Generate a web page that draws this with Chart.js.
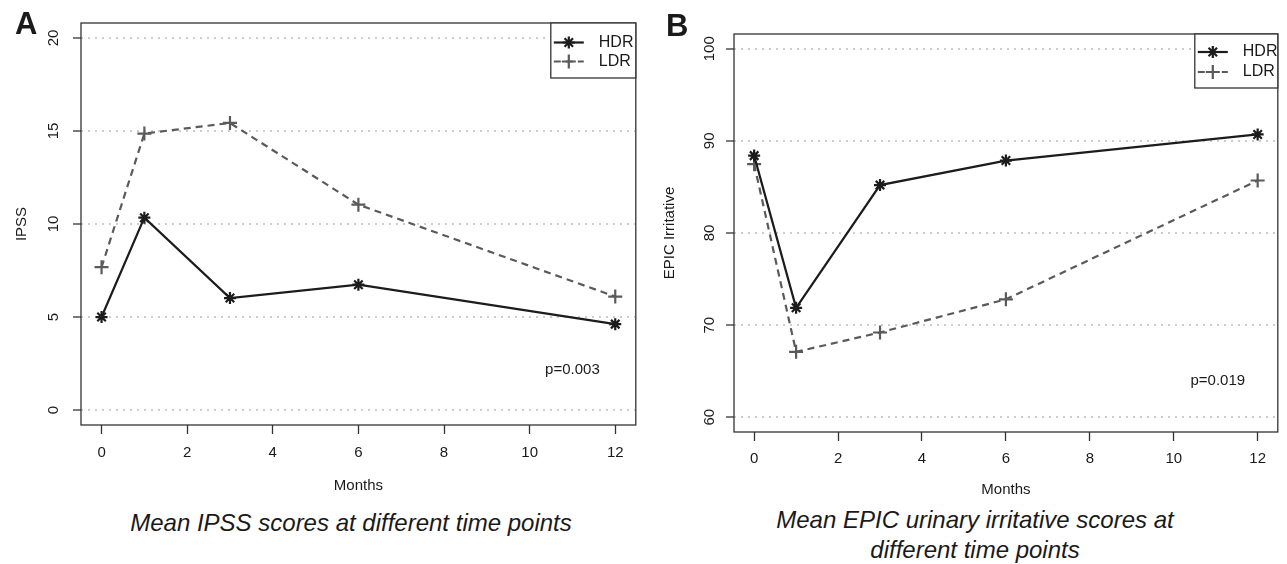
<!DOCTYPE html>
<html>
<head>
<meta charset="utf-8">
<script src="https://cdn.jsdelivr.net/npm/chart.js@4.4.1/dist/chart.umd.min.js"></script>
<style>
  html, body { margin: 0; padding: 0; background: #fff; }
  #page { position: relative; width: 1287px; height: 564px; overflow: hidden;
          font-family: "Liberation Sans", Arial, Helvetica, sans-serif; color: #1a1a1a; }
  canvas { position: absolute; top: 0; }
  .tag { position: absolute; font-weight: bold; font-size: 31px; line-height: 1; }
  .cap { position: absolute; font-style: italic; font-size: 24px; text-align: center; line-height: 30px; width: 500px; }
</style>
</head>
<body>
<div id="page">
  <canvas id="ipss" width="645" height="500" style="left:0"></canvas>
  <canvas id="epic" width="642" height="500" style="left:645px"></canvas>
  <div class="tag" style="left:15px;top:8px">A</div>
  <div class="tag" style="left:666px;top:10px">B</div>
  <div class="cap" style="left:101px;top:508px">Mean IPSS scores at different time points</div>
  <div class="cap" style="left:725px;top:505px">Mean EPIC urinary irritative scores at<br>different time points</div>
</div>
<script>
// values
const months = [0, 1, 3, 6, 12];
const seriesNames = ['HDR', 'LDR'];
const ipssHdr = [5.0, 10.34, 6.02, 6.74, 4.62];
const ipssLdr = [7.68, 14.86, 15.43, 11.04, 6.1];
const epicHdr = [88.4, 71.88, 85.2, 87.86, 90.7];
const epicLdr = [87.47, 67.1, 69.2, 72.8, 85.7];
const monthTicks = [0, 2, 4, 6, 8, 10, 12];
const ipssTicks = [0, 5, 10, 15, 20];
const epicTicks = [60, 70, 80, 90, 100];

Chart.defaults.font.family = '"Liberation Sans", Arial, Helvetica, sans-serif';
Chart.defaults.color = '#1a1a1a';

const INK = '#1c1c1c';
const GREY = '#5a5a5a';
const FRAME = '#333';

function mark(ctx, style, x, y, r) {
  ctx.beginPath();
  ctx.moveTo(x - r, y); ctx.lineTo(x + r, y);
  ctx.moveTo(x, y - r); ctx.lineTo(x, y + r);
  if (style === 'star') {
    const d = r * Math.SQRT1_2;
    ctx.moveTo(x - d, y - d); ctx.lineTo(x + d, y + d);
    ctx.moveTo(x - d, y + d); ctx.lineTo(x + d, y - d);
  }
  ctx.stroke();
}

// frame round the plot region, R-style legend box and the p-value note
const boxAndLegend = {
  id: 'boxAndLegend',
  afterDatasetsDraw(chart, args, opts) {
    const { ctx, chartArea: a } = chart;
    ctx.save();
    ctx.strokeStyle = FRAME;
    ctx.lineWidth = 1.3;
    ctx.strokeRect(a.left, a.top, a.right - a.left, a.bottom - a.top);

    const lx = a.right - opts.width, ly = a.top;
    ctx.fillStyle = '#fff';
    ctx.fillRect(lx, ly, opts.width, opts.height);
    ctx.strokeRect(lx, ly, opts.width, opts.height);

    ctx.font = '16px "Liberation Sans", Arial, sans-serif';
    ctx.textBaseline = 'middle';
    ctx.textAlign = 'left';
    chart.data.datasets.forEach((ds, i) => {
      const y = ly + opts.rows[i];
      ctx.strokeStyle = ds.borderColor;
      ctx.lineWidth = ds.borderWidth;
      ctx.setLineDash(ds.borderDash || []);
      ctx.beginPath();
      ctx.moveTo(lx + 3, y);
      ctx.lineTo(lx + 33, y);
      ctx.stroke();
      ctx.setLineDash([]);
      ctx.lineWidth = ds.pointBorderWidth;
      mark(ctx, ds.pointStyle, lx + 18, y, ds.pointRadius);
      ctx.fillStyle = '#1a1a1a';
      ctx.fillText(ds.label, lx + 48, y);
    });

    const xs = chart.scales.x, ys = chart.scales.y;
    ctx.font = '15px "Liberation Sans", Arial, sans-serif';
    ctx.textAlign = 'center';
    ctx.fillText(opts.note.text, xs.getPixelForValue(opts.note.x), ys.getPixelForValue(opts.note.y));
    ctx.restore();
  }
};

function makePanel(id, o) {
  const points = vals => months.map((m, i) => ({ x: m, y: vals[i] }));
  return new Chart(document.getElementById(id), {
    type: 'line',
    data: {
      datasets: [
        {
          label: seriesNames[0], data: points(o.hdr),
          borderColor: INK, borderWidth: 2.2, tension: 0, fill: false,
          pointStyle: 'star', pointRadius: 6, pointBorderWidth: 2.2,
          pointBorderColor: INK, pointBackgroundColor: INK,
        },
        {
          label: seriesNames[1], data: points(o.ldr),
          borderColor: GREY, borderWidth: 2.2, borderDash: [7, 5], tension: 0, fill: false,
          pointStyle: 'cross', pointRadius: 7, pointBorderWidth: 2.2,
          pointBorderColor: GREY, pointBackgroundColor: GREY,
        },
      ],
    },
    options: {
      responsive: false,
      animation: false,
      devicePixelRatio: 1,
      layout: { padding: { left: 0, top: o.top, right: o.right, bottom: 0 } },
      plugins: {
        legend: { display: false },
        tooltip: { enabled: false },
        boxAndLegend: o.legend,
      },
      scales: {
        x: {
          type: 'linear', min: -0.48, max: 12.48,
          afterBuildTicks: s => { s.ticks = monthTicks.map(v => ({ value: v })); },
          afterFit: s => { s.height = o.xHeight; },
          grid: { drawOnChartArea: false, drawTicks: true, tickLength: 9, tickColor: FRAME, tickWidth: 1.3 },
          border: { display: false },
          ticks: { padding: o.xPad, font: { size: 15 }, color: '#1a1a1a', maxRotation: 0 },
          title: { display: true, text: 'Months', font: { size: 15 }, padding: { top: 0, bottom: o.titlePad } },
        },
        y: {
          type: 'linear', min: o.ymin, max: o.ymax,
          afterBuildTicks: s => { s.ticks = o.yTicks.map(v => ({ value: v })); },
          afterFit: s => { s.width = o.yWidth; },
          grid: { color: '#cdcdcd', lineWidth: 2, borderDash: [2, 5], tickLength: 8, tickColor: FRAME, tickWidth: 1.3 },
          border: { display: false, dash: [2, 5] },
          ticks: { minRotation: 90, maxRotation: 90, crossAlign: 'center', padding: o.yPad, font: { size: 15 }, color: '#1a1a1a' },
          title: { display: true, text: o.yTitle, font: { size: 15 }, padding: { top: o.yTitlePad, bottom: 0 } },
        },
      },
    },
    plugins: [boxAndLegend],
  });
}

makePanel('ipss', {
  hdr: ipssHdr, ldr: ipssLdr, yTicks: ipssTicks, ymin: -0.8, ymax: 20.8, yTitle: 'IPSS',
  top: 23, right: 9, xHeight: 75, xPad: 10, titlePad: 5, yWidth: 81, yPad: 11, yTitlePad: 13,
  legend: { width: 85, height: 55, rows: [19.5, 38.5], note: { text: 'p=0.003', x: 11, y: 2.15 } },
});

makePanel('epic', {
  hdr: epicHdr, ldr: epicLdr, yTicks: epicTicks, ymin: 58.4, ymax: 101.6, yTitle: 'EPIC Irritative',
  top: 34, right: 4, xHeight: 68, xPad: 9, titlePad: 1, yWidth: 89, yPad: 3.5, yTitlePad: 16,
  legend: { width: 83, height: 54, rows: [18, 38], note: { text: 'p=0.019', x: 11.05, y: 63.9 } },
});
</script>
</body>
</html>
